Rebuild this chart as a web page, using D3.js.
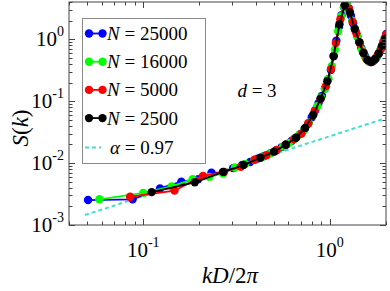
<!DOCTYPE html>
<html>
<head>
<meta charset="utf-8">
<script src="https://cdn.jsdelivr.net/npm/d3@7"></script>
<style>
body { margin: 0; background: #fff; }
text { font-family: "Liberation Serif", "Times New Roman", serif; fill: #000; }
</style>
</head>
<body>
<svg id="chart" width="390" height="291"></svg>
<script>
// values
var kBlue = [0.0506, 0.0877, 0.123, 0.160, 0.197, 0.232, 0.268, 0.303, 0.339, 0.374, 0.410, 0.445, 0.481, 0.516, 0.552, 0.587, 0.623, 0.658, 0.694, 0.729, 0.765, 0.800, 0.836, 0.871, 0.907, 0.942, 0.978, 1.013, 1.049, 1.084, 1.120, 1.155, 1.191, 1.226, 1.262, 1.297, 1.333, 1.368, 1.404, 1.439, 1.475, 1.510, 1.546, 1.581, 1.617, 1.652, 1.688, 1.723, 1.759, 1.794, 1.830, 1.865, 1.901, 1.936, 1.972, 2.007];
var sBlue = [0.00253, 0.0026, 0.0039, 0.0050, 0.0055, 0.0070, 0.0071, 0.0083, 0.0093, 0.0104, 0.0118, 0.0130, 0.0145, 0.0160, 0.0181, 0.0202, 0.0228, 0.0258, 0.0294, 0.0345, 0.0430, 0.0550, 0.0720, 0.0940, 0.122, 0.160, 0.225, 0.320, 0.540, 0.950, 1.60, 2.45, 3.30, 3.75, 3.20, 2.40, 1.80, 1.40, 1.12, 0.90, 0.72, 0.61, 0.53, 0.47, 0.44, 0.43, 0.435, 0.455, 0.49, 0.53, 0.59, 0.66, 0.77, 0.90, 1.05, 1.22];

var kGreen = [0.0582, 0.100, 0.142, 0.184, 0.226, 0.268, 0.310, 0.352, 0.394, 0.436, 0.478, 0.520, 0.562, 0.604, 0.646, 0.688, 0.730, 0.772, 0.814, 0.856, 0.898, 0.940, 0.982, 1.024, 1.066, 1.108, 1.150, 1.192, 1.234, 1.276, 1.318, 1.360, 1.402, 1.444, 1.486, 1.528, 1.570, 1.612, 1.654, 1.696, 1.738, 1.780, 1.822, 1.864, 1.906, 1.948, 1.990];
var sGreen = [0.0026, 0.0033, 0.0042, 0.0055, 0.0060, 0.0068, 0.0085, 0.0097, 0.0112, 0.0127, 0.0143, 0.0162, 0.0186, 0.0212, 0.0248, 0.0288, 0.0350, 0.0450, 0.0610, 0.0830, 0.115, 0.158, 0.230, 0.370, 0.680, 1.35, 2.35, 3.35, 3.65, 2.85, 2.00, 1.48, 1.13, 0.87, 0.68, 0.56, 0.48, 0.445, 0.43, 0.44, 0.47, 0.51, 0.58, 0.66, 0.78, 0.93, 1.10];

var kRed = [0.085, 0.147, 0.209, 0.271, 0.333, 0.395, 0.457, 0.519, 0.581, 0.643, 0.705, 0.767, 0.829, 0.891, 0.953, 1.015, 1.077, 1.139, 1.201, 1.263, 1.325, 1.387, 1.449, 1.511, 1.573, 1.635, 1.697, 1.759, 1.821, 1.883, 1.945, 2.007];
var sRed = [0.00286, 0.0036, 0.0062, 0.0072, 0.0087, 0.0113, 0.0134, 0.0163, 0.0198, 0.0245, 0.0300, 0.0440, 0.0690, 0.109, 0.175, 0.330, 0.870, 2.10, 3.50, 3.15, 1.90, 1.25, 0.86, 0.61, 0.48, 0.435, 0.44, 0.49, 0.58, 0.71, 0.92, 1.20];

var kBlack = [0.111, 0.189, 0.268, 0.345, 0.425, 0.502, 0.580, 0.660, 0.737, 0.815, 0.893, 0.970, 1.048, 1.126, 1.204, 1.282, 1.360, 1.438, 1.516, 1.594, 1.672, 1.750, 1.828, 1.906, 1.984];
var sBlack = [0.0034, 0.0049, 0.0072, 0.0093, 0.0122, 0.0153, 0.0198, 0.0256, 0.0370, 0.0600, 0.110, 0.210, 0.530, 1.75, 3.55, 2.70, 1.48, 0.90, 0.60, 0.46, 0.43, 0.48, 0.59, 0.78, 1.02];

var kAlpha = [0.0487, 2.0];
var sAlpha = [0.00145, 0.0532];

var seriesNames = ['25000', '16000', '5000', '2500'];
var seriesColors = ['#0000ff', '#00ff00', '#ff0000', '#000000'];
var seriesK = [kBlue, kGreen, kRed, kBlack];
var seriesS = [sBlue, sGreen, sRed, sBlack];

var xTickLabels = ['-1', '0'];
var yTickLabels = ['-3', '-2', '-1', '0'];

var svg = d3.select('#chart');
var x = d3.scaleLog().domain([0.04, 2.0]).range([69, 386]);
var y = d3.scaleLog().domain([1e-3, 4]).range([225, 2]);

svg.append('clipPath')
    .attr('id', 'clip')
    .append('rect')
    .attr('x', 69).attr('y', 2)
    .attr('width', 317).attr('height', 223);

var plot = svg.append('g').attr('clip-path', 'url(#clip)');

// dashed power law
plot.append('path')
    .datum(d3.zip(kAlpha, sAlpha))
    .attr('d', d3.line().x(function(d) { return x(d[0]); }).y(function(d) { return y(d[1]); }))
    .attr('fill', 'none')
    .attr('stroke', '#40e0d0')
    .attr('stroke-width', 2)
    .attr('stroke-dasharray', '4,3');

var line = d3.line()
    .x(function(d) { return x(d[0]); })
    .y(function(d) { return y(d[1]); });

seriesNames.forEach(function(name, i) {
    var pts = d3.zip(seriesK[i], seriesS[i]);
    var g = plot.append('g');
    g.selectAll('circle')
        .data(pts)
        .enter()
        .append('circle')
        .attr('cx', function(d) { return x(d[0]); })
        .attr('cy', function(d) { return y(d[1]); })
        .attr('r', 4.2)
        .attr('fill', seriesColors[i]);
    g.append('path')
        .datum(pts)
        .attr('d', line)
        .attr('fill', 'none')
        .attr('stroke', seriesColors[i])
        .attr('stroke-width', 1.8);
});

// frame and ticks
var axisColor = '#444';
svg.append('rect')
    .attr('x', 69).attr('y', 2)
    .attr('width', 317).attr('height', 223)
    .attr('fill', 'none')
    .attr('stroke', axisColor)
    .attr('stroke-width', 1);

function isMajor(v) {
    var l = Math.log10(v);
    return Math.abs(l - Math.round(l)) < 1e-6;
}

var xt = x.ticks().filter(function(v) { return v >= 0.04 && v <= 2.0; });
var yt = y.ticks().filter(function(v) { return v >= 1e-3 && v <= 4; });
var ticks = svg.append('g').attr('stroke', axisColor).attr('stroke-width', 1);
xt.forEach(function(v) {
    var len = isMajor(v) ? 6 : 3.5;
    var px = Math.round(x(v)) + 0.5;
    ticks.append('line').attr('x1', px).attr('x2', px).attr('y1', 225).attr('y2', 225 - len);
    ticks.append('line').attr('x1', px).attr('x2', px).attr('y1', 2).attr('y2', 2 + len);
});
yt.forEach(function(v) {
    var len = isMajor(v) ? 6 : 3.5;
    var py = Math.round(y(v)) + 0.5;
    ticks.append('line').attr('x1', 69).attr('x2', 69 + len).attr('y1', py).attr('y2', py);
    ticks.append('line').attr('x1', 386).attr('x2', 386 - len).attr('y1', py).attr('y2', py);
});

// tick labels
[0.1, 1].forEach(function(v, i) {
    var t = svg.append('text')
        .attr('x', x(v))
        .attr('y', 257)
        .attr('text-anchor', 'middle')
        .style('font-size', '21px');
    t.append('tspan').text('10');
    t.append('tspan').attr('dy', -10).style('font-size', '14px').text(xTickLabels[i]);
});
[1e-3, 1e-2, 1e-1, 1].forEach(function(v, i) {
    var t = svg.append('text')
        .attr('x', 64)
        .attr('y', y(v) + 7)
        .attr('text-anchor', 'end')
        .style('font-size', '21px');
    t.append('tspan').text('10');
    t.append('tspan').attr('dy', -10).style('font-size', '14px').text(yTickLabels[i]);
});

// axis titles
var xl = svg.append('text')
    .attr('x', 230)
    .attr('y', 283)
    .attr('text-anchor', 'middle')
    .style('font-size', '23px');
xl.append('tspan').style('font-style', 'italic').text('kD');
xl.append('tspan').text('/2');
xl.append('tspan').style('font-style', 'italic').text('\u03c0');

var yl = svg.append('text')
    .attr('transform', 'translate(28,128) rotate(-90)')
    .attr('text-anchor', 'middle')
    .style('font-size', '23px');
yl.append('tspan').style('font-style', 'italic').text('S');
yl.append('tspan').text('(');
yl.append('tspan').style('font-style', 'italic').text('k');
yl.append('tspan').text(')');

// d = 3
var dl = svg.append('text')
    .attr('x', 257)
    .attr('y', 97)
    .attr('text-anchor', 'middle')
    .style('font-size', '19px');
dl.append('tspan').style('font-style', 'italic').text('d');
dl.append('tspan').text(' = 3');

// legend
var legend = svg.append('g');
legend.append('rect')
    .attr('x', 82.5).attr('y', 18.5)
    .attr('width', 123).attr('height', 145)
    .attr('fill', '#fff')
    .attr('stroke', '#888')
    .attr('stroke-width', 1);
var rows = legend.selectAll('.row')
    .data(seriesNames)
    .enter()
    .append('g')
    .attr('class', 'row')
    .attr('transform', function(d, i) { return 'translate(0,' + (33.5 + i * 28.2) + ')'; });
rows.each(function(d, i) {
    var r = d3.select(this);
    r.append('line')
        .attr('x1', 89).attr('x2', 102.5)
        .attr('stroke', seriesColors[i])
        .attr('stroke-width', 1.8);
    r.selectAll('circle')
        .data([89, 102.5])
        .enter()
        .append('circle')
        .attr('cx', function(c) { return c; })
        .attr('r', 4.2)
        .attr('fill', seriesColors[i]);
    var t = r.append('text')
        .attr('x', 107)
        .attr('y', 6.5)
        .style('font-size', '19px');
    t.append('tspan').style('font-style', 'italic').text('N');
    t.append('tspan').text(' = ' + d);
});
var ar = legend.append('g').attr('transform', 'translate(0,147.5)');
ar.append('line')
    .attr('x1', 85).attr('x2', 101)
    .attr('stroke', '#40e0d0')
    .attr('stroke-width', 2)
    .attr('stroke-dasharray', '4,3');
var at = ar.append('text')
    .attr('x', 110)
    .attr('y', 6.5)
    .style('font-size', '19px');
at.append('tspan').style('font-style', 'italic').text('\u03b1');
at.append('tspan').text(' = 0.97');
</script>
</body>
</html>
